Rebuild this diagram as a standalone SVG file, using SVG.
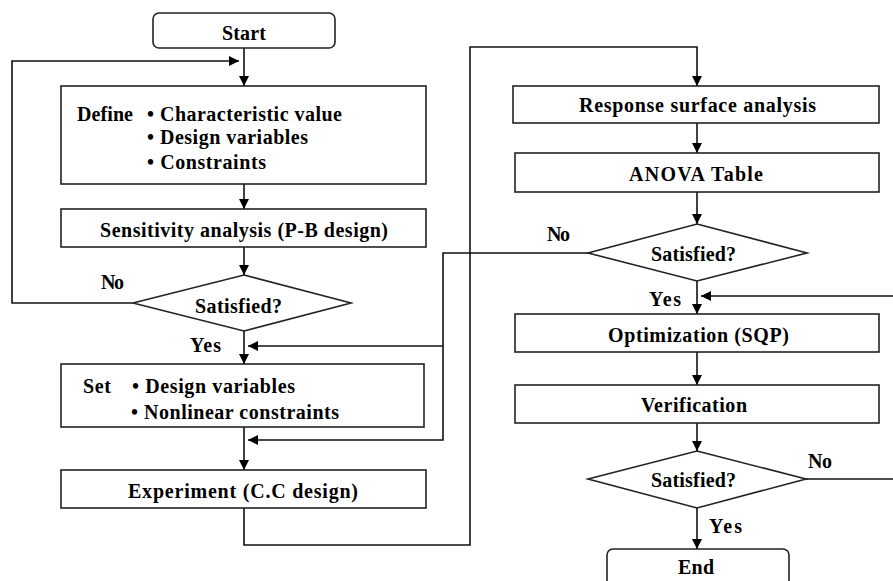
<svg xmlns="http://www.w3.org/2000/svg" width="893" height="581" viewBox="0 0 893 581">
<defs>
<marker id="ah" viewBox="0 0 10 10" refX="10" refY="5" markerWidth="10" markerHeight="10" markerUnits="userSpaceOnUse" orient="auto">
<path d="M0,0 L10,5 L0,10 z" fill="#000"/>
</marker>
<style>
.box{fill:#fff;stroke:#222;stroke-width:1.6}
.ln{fill:none;stroke:#111;stroke-width:1.6}
.arr{fill:none;stroke:#111;stroke-width:1.6;marker-end:url(#ah)}
.t text{font-family:'Liberation Serif','Tinos','Nimbus Roman','FreeSerif','DejaVu Serif',serif;font-weight:700;font-size:20px;fill:#000}
</style>
</defs>
<rect width="893" height="581" fill="#fff"/>
<g id="connectors">
<path class="arr" d="M244,48 V86"/>
<path class="arr" d="M133,303 H12 V61 H239"/>
<path class="arr" d="M244,184 V209"/>
<path class="arr" d="M244,247 V275"/>
<path class="arr" d="M244,331 V364"/>
<path class="arr" d="M588,253 H443 V440 H248"/>
<path class="arr" d="M443,346 H248"/>
<path class="arr" d="M244,427 V470"/>
<path class="arr" d="M244,508 V545 H470 V47 H697 V86"/>
<path class="arr" d="M697,123 V153"/>
<path class="arr" d="M697,192 V224"/>
<path class="arr" d="M697,281 V314"/>
<path class="arr" d="M893,296 H701"/>
<path class="arr" d="M697,352 V385"/>
<path class="arr" d="M697,423 V451"/>
<path class="arr" d="M697,508 V549"/>
<path class="ln" d="M806,479 H893"/>
</g>
<g class="t">
<g id="start">
<rect class="box" x="153" y="13" width="182" height="35" rx="6"/>
<text x="222" y="40" textLength="44" lengthAdjust="spacing">Start</text>
</g>
<g id="define">
<rect class="box" x="61" y="86" width="365" height="98"/>
<text x="77" y="121" textLength="56" lengthAdjust="spacing">Define</text>
<text x="147" y="121" textLength="195" lengthAdjust="spacing">• Characteristic value</text>
<text x="147" y="144" textLength="161" lengthAdjust="spacing">• Design variables</text>
<text x="147" y="169" textLength="119" lengthAdjust="spacing">• Constraints</text>
</g>
<g id="sensitivity">
<rect class="box" x="61" y="209" width="365" height="38"/>
<text x="100" y="237" textLength="288" lengthAdjust="spacing">Sensitivity analysis (P-B design)</text>
</g>
<g id="decision1">
<polygon class="box" points="244,275 351,303 244,331 133,303"/>
<text x="195" y="313" textLength="87" lengthAdjust="spacing">Satisfied?</text>
<text x="101" y="289" textLength="23" lengthAdjust="spacing">No</text>
<text x="190" y="352" textLength="31" lengthAdjust="spacing">Yes</text>
</g>
<g id="set">
<rect class="box" x="61" y="364" width="363" height="63"/>
<text x="83" y="393" textLength="28" lengthAdjust="spacing">Set</text>
<text x="132" y="393" textLength="163" lengthAdjust="spacing">• Design variables</text>
<text x="131" y="419" textLength="208" lengthAdjust="spacing">• Nonlinear constraints</text>
</g>
<g id="experiment">
<rect class="box" x="61" y="470" width="365" height="38"/>
<text x="128" y="498" textLength="230" lengthAdjust="spacing">Experiment (C.C design)</text>
</g>
<g id="response">
<rect class="box" x="513" y="86" width="366" height="37"/>
<text x="579" y="112" textLength="237" lengthAdjust="spacing">Response surface analysis</text>
</g>
<g id="anova">
<rect class="box" x="515" y="153" width="364" height="39"/>
<text x="629" y="181" textLength="134" lengthAdjust="spacing">ANOVA Table</text>
</g>
<g id="decision2">
<polygon class="box" points="697,224 807,253 697,281 588,253"/>
<text x="651" y="261" textLength="85" lengthAdjust="spacing">Satisfied?</text>
<text x="547" y="241" textLength="23" lengthAdjust="spacing">No</text>
<text x="649" y="306" textLength="32" lengthAdjust="spacing">Yes</text>
</g>
<g id="optimization">
<rect class="box" x="515" y="314" width="364" height="38"/>
<text x="608" y="342" textLength="181" lengthAdjust="spacing">Optimization (SQP)</text>
</g>
<g id="verification">
<rect class="box" x="515" y="385" width="364" height="38"/>
<text x="641" y="412" textLength="106" lengthAdjust="spacing">Verification</text>
</g>
<g id="decision3">
<polygon class="box" points="697,451 806,479 697,508 588,479"/>
<text x="651" y="487" textLength="85" lengthAdjust="spacing">Satisfied?</text>
<text x="808" y="468" textLength="24" lengthAdjust="spacing">No</text>
<text x="709" y="533" textLength="33" lengthAdjust="spacing">Yes</text>
</g>
<g id="end">
<rect class="box" x="607" y="549" width="182" height="42" rx="6"/>
<text x="678" y="574" textLength="36" lengthAdjust="spacing">End</text>
</g>
</g>
</svg>
